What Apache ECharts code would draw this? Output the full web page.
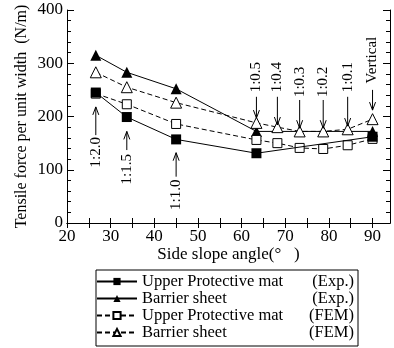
<!DOCTYPE html>
<html><head><meta charset="utf-8">
<script src="https://cdn.jsdelivr.net/npm/echarts@6/dist/echarts.min.js"></script>
<style>html,body{margin:0;padding:0;background:#fff}#c{width:394px;height:348px}</style>
</head><body><div id="c"></div>
<script>
const xExp = [26.6, 33.7, 45, 63.4, 90];
const xFem = [26.6, 33.7, 45, 63.4, 68.2, 73.3, 78.7, 84.3, 90];
const upperExp = [245, 199, 157, 131, 162];
const barrierExp = [315, 283, 252, 172, 172];
const upperFem = [243, 223, 186, 156, 150, 141, 139, 146, 158];
const barrierFem = [283, 255, 226, 188, 180, 172, 172, 176, 195];
const xTicks = [20, 30, 40, 50, 60, 70, 80, 90];
const slopeLabels = ['1:2.0', '1:1.5', '1:1.0', '1:0.5', '1:0.4', '1:0.3', '1:0.2', '1:0.1', 'Vertical'];
const annotTail = [165, 137, 87, 237, 237, 231, 231, 237, 250];
const annotTip = [218, 172, 132, 197, 184, 178, 178, 182, 212];
const annotText = [133, 101, 53, 274, 274, 265, 265, 274, 306];

const FONT = 'Liberation Serif';
const zip = (xs, ys) => xs.map((x, i) => [x, ys[i]]);
const minorX = [];
for (let v = 20; v <= 90; v += 5) minorX.push(v);

const chart = echarts.init(document.getElementById('c'));
const axisCommon = {
  axisLine: { lineStyle: { color: '#000', width: 1 } },
  splitLine: { show: false }
};
chart.setOption({
  animation: false,
  backgroundColor: '#fff',
  textStyle: { fontFamily: FONT, color: '#000' },
  grid: { left: 67, right: 4, top: 10, bottom: 125 },
  xAxis: [
    Object.assign({
      type: 'value', min: 20, max: 94, interval: 10, position: 'bottom',
      name: 'Side slope angle(°   )', nameLocation: 'middle', nameGap: 23, nameMoveOverlap: false,
      nameTextStyle: { fontFamily: FONT, fontSize: 17, color: '#000' },
      axisTick: { inside: true, length: 5, customValues: minorX, lineStyle: { color: '#000' } },
      axisLabel: { customValues: xTicks, margin: 5, fontFamily: FONT, fontSize: 17, color: '#000' }
    }, axisCommon),
    Object.assign({
      type: 'value', min: 20, max: 94, interval: 10, position: 'top',
      axisTick: { inside: true, length: 5, customValues: minorX, lineStyle: { color: '#000' } },
      axisLabel: { show: false }
    }, axisCommon)
  ],
  yAxis: [
    Object.assign({
      type: 'value', min: 0, max: 400, interval: 100, position: 'left',
      name: 'Tensile force per unit width  (N/m)', nameLocation: 'middle', nameGap: 37, nameMoveOverlap: false,
      nameTextStyle: { fontFamily: FONT, fontSize: 16, color: '#000' },
      axisTick: { inside: true, length: 7, lineStyle: { color: '#000' } },
      minorTick: { show: true, splitNumber: 5, length: 4, lineStyle: { color: '#000' } },
      axisLabel: { margin: 4, fontFamily: FONT, fontSize: 17, color: '#000' }
    }, axisCommon),
    Object.assign({
      type: 'value', min: 0, max: 400, interval: 100, position: 'right',
      axisTick: { inside: true, length: 7, lineStyle: { color: '#000' } },
      minorTick: { show: true, splitNumber: 5, length: 4, lineStyle: { color: '#000' } },
      axisLabel: { show: false }
    }, axisCommon)
  ],
  legend: {
    left: 96, top: 270, orient: 'vertical',
    data: ['Upper Protective mat (Exp.)', 'Barrier sheet (Exp.)', 'Upper Protective mat (FEM)', 'Barrier sheet (FEM)'],
    borderColor: '#000', borderWidth: 1, borderRadius: 0,
    padding: [3, 4, 5, 0], itemGap: 0, itemWidth: 40, itemHeight: 9,
    formatter: function (name) {
      const i = name.lastIndexOf(' (');
      return '{a|' + name.slice(0, i) + '}{b|' + name.slice(i + 1) + '}';
    },
    textStyle: {
      fontFamily: FONT, fontSize: 16.5, color: '#000', lineHeight: 16.7,
      rich: {
        a: { width: 150, fontFamily: FONT, fontSize: 16.5, lineHeight: 16.7 },
        b: { width: 62, align: 'right', fontFamily: FONT, fontSize: 16.5, lineHeight: 16.7 }
      }
    }
  },
  series: [
    {
      name: 'Barrier sheet (Exp.)', type: 'line', data: zip(xExp, barrierExp), z: 2,
      symbol: 'triangle', symbolSize: 11,
      lineStyle: { color: '#000', width: 1 },
      itemStyle: { color: '#000', borderColor: '#000', borderWidth: 0 }
    },
    {
      name: 'Barrier sheet (FEM)', type: 'line', data: zip(xFem, barrierFem), z: 3,
      symbol: 'triangle', symbolSize: 11,
      lineStyle: { color: '#000', width: 1, type: [5, 3] },
      itemStyle: { color: '#fff', borderColor: '#000', borderWidth: 1 }
    },
    {
      name: 'Upper Protective mat (FEM)', type: 'line', data: zip(xFem, upperFem), z: 4,
      symbol: 'rect', symbolSize: 9,
      lineStyle: { color: '#000', width: 1, type: [5, 3] },
      itemStyle: { color: '#fff', borderColor: '#000', borderWidth: 1 }
    },
    {
      name: 'Upper Protective mat (Exp.)', type: 'line', data: zip(xExp, upperExp), z: 5,
      symbol: 'rect', symbolSize: 10,
      lineStyle: { color: '#000', width: 1 },
      itemStyle: { color: '#000', borderColor: '#000', borderWidth: 0 }
    },
    {
      type: 'custom', silent: true, z: 6,
      data: xFem.map((x, i) => [x, annotTail[i], annotTip[i], annotText[i]]),
      renderItem: function (params, api) {
        const x = api.value(0);
        const tail = api.coord([x, api.value(1)]);
        const tip = api.coord([x, api.value(2)]);
        const txt = api.coord([x, api.value(3)]);
        const dir = tip[1] < tail[1] ? -1 : 1;
        const ah = 8, aw = 3;
        return {
          type: 'group', children: [
            { type: 'line', shape: { x1: tail[0], y1: tail[1], x2: tip[0], y2: tip[1] }, style: { stroke: '#000', lineWidth: 1 } },
            { type: 'polyline', shape: { points: [[tip[0] - aw, tip[1] - dir * ah], [tip[0], tip[1]], [tip[0] + aw, tip[1] - dir * ah]] }, style: { stroke: '#000', fill: null, lineWidth: 1 } },
            { type: 'text', x: txt[0], y: txt[1], rotation: Math.PI / 2,
              style: { text: slopeLabels[params.dataIndex], align: 'center', verticalAlign: 'middle', fontFamily: FONT, fontSize: 15, fill: '#000' } }
          ]
        };
      }
    }
  ]
});
</script></body></html>
